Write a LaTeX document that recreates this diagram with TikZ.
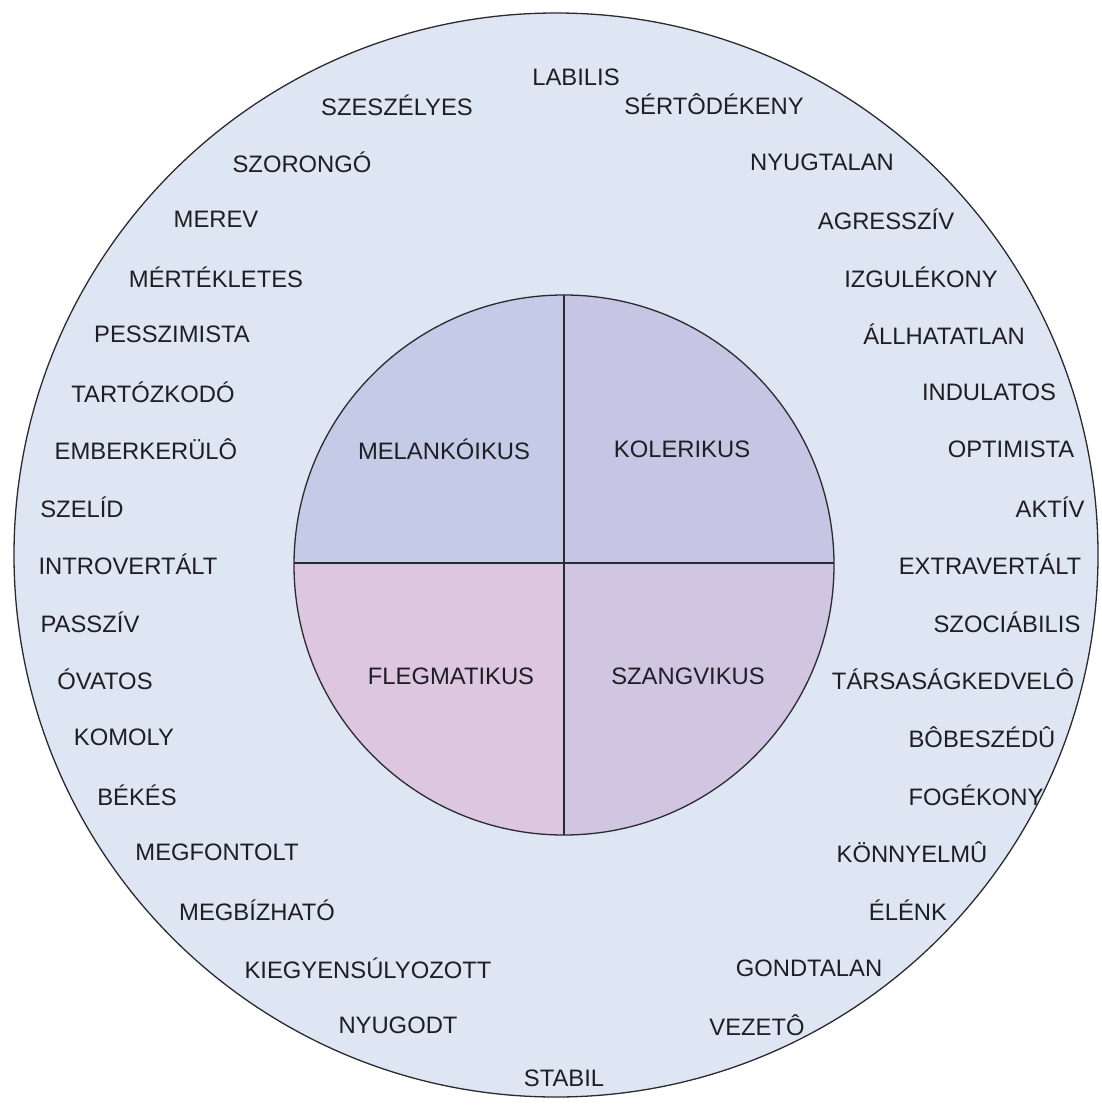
\documentclass[tikz,border=0pt]{standalone}
\usepackage{fontspec}
\setmainfont{Liberation Sans}
\definecolor{outerfill}{HTML}{DDE6F2}
\definecolor{qTL}{HTML}{C4CBE6}
\definecolor{qTR}{HTML}{C6C5E3}
\definecolor{qBL}{HTML}{DDC7E0}
\definecolor{qBR}{HTML}{D0C6E2}
\definecolor{txt}{HTML}{1E1E24}
\definecolor{rim}{HTML}{2A2A30}
\tikzset{
  lbl/.style={inner sep=0pt, anchor=center, text=txt, font=\fontsize{23.8}{25}\selectfont},
  rimline/.style={draw=rim, line width=1.3pt}
}
\begin{document}
\begin{tikzpicture}[x=1pt,y=1pt]
\useasboundingbox (0,0) rectangle (1101,-1107);
% outer circle
\fill[outerfill] (556,-555) circle[radius=542];
\draw[rimline] (556,-555) circle[radius=542];
% inner quadrants
\coordinate (C) at (564,-565);
\fill[qTL] (C) -- ++(0,270) arc[start angle=90,end angle=180,radius=270] -- cycle;
\fill[qTR] (C) -- ++(270,0) arc[start angle=0,end angle=90,radius=270] -- cycle;
\fill[qBL] (C) -- ++(-270,0) arc[start angle=180,end angle=270,radius=270] -- cycle;
\fill[qBR] (C) -- ++(0,-270) arc[start angle=270,end angle=360,radius=270] -- cycle;
\draw[rimline] (C) circle[radius=270];
\draw[rimline] (564,-295) -- (564,-835);
\draw[rimline] (294,-563) -- (834,-563);
% inner labels
\node[lbl] (mel) at (444,-449) {MELANKÓIKUS};
\node[lbl] (kol) at (682,-449) {KOLERIKUS};
\node[lbl] (fle) at (451,-676) {FLEGMATIKUS};
\node[lbl] (sza) at (688,-676) {SZANGVIKUS};
% outer labels
\node[lbl] (t1) at (576,-77) {LABILIS};
\node[lbl] (l1) at (397,-105) {SZESZÉLYES};
\node[lbl] (r1) at (714,-104) {SÉRTÔDÉKENY};
\node[lbl] (l2) at (302,-162) {SZORONGÓ};
\node[lbl] (r2) at (822,-162) {NYUGTALAN};
\node[lbl] (l3) at (216,-219) {MEREV};
\node[lbl] (r3) at (886,-219) {AGRESSZÍV};
\node[lbl] (l4) at (216,-277) {MÉRTÉKLETES};
\node[lbl] (r4) at (921,-277) {IZGULÉKONY};
\node[lbl] (l5) at (172,-334) {PESSZIMISTA};
\node[lbl] (r5) at (944,-334) {ÁLLHATATLAN};
\node[lbl] (l6) at (153,-392) {TARTÓZKODÓ};
\node[lbl] (r6) at (989,-392) {INDULATOS};
\node[lbl] (l7) at (146,-449) {EMBERKERÜLÔ};
\node[lbl] (r7) at (1011,-449) {OPTIMISTA};
\node[lbl] (l8) at (82,-507) {SZELÍD};
\node[lbl] (r8) at (1050,-507) {AKTÍV};
\node[lbl] (l9) at (128,-564) {INTROVERTÁLT};
\node[lbl] (r9) at (990,-564) {EXTRAVERTÁLT};
\node[lbl] (l10) at (90,-622) {PASSZÍV};
\node[lbl] (r10) at (1007,-622) {SZOCIÁBILIS};
\node[lbl] (l11) at (105,-679) {ÓVATOS};
\node[lbl] (r11) at (953,-679) {TÁRSASÁGKEDVELÔ};
\node[lbl] (l12) at (124,-737) {KOMOLY};
\node[lbl] (r12) at (982,-737) {BÔBESZÉDÛ};
\node[lbl] (l13) at (137,-795) {BÉKÉS};
\node[lbl] (r13) at (976,-795) {FOGÉKONY};
\node[lbl] (l14) at (217,-852) {MEGFONTOLT};
\node[lbl] (r14) at (912,-852) {KÖNNYELMÛ};
\node[lbl] (l15) at (257,-910) {MEGBÍZHATÓ};
\node[lbl] (r15) at (908,-910) {ÉLÉNK};
\node[lbl] (l16) at (368,-968) {KIEGYENSÚLYOZOTT};
\node[lbl] (r16) at (809,-968) {GONDTALAN};
\node[lbl] (l17) at (398,-1025) {NYUGODT};
\node[lbl] (r17) at (757,-1025) {VEZETÔ};
\node[lbl] (b1) at (564,-1078) {STABIL};
\end{tikzpicture}
\end{document}
